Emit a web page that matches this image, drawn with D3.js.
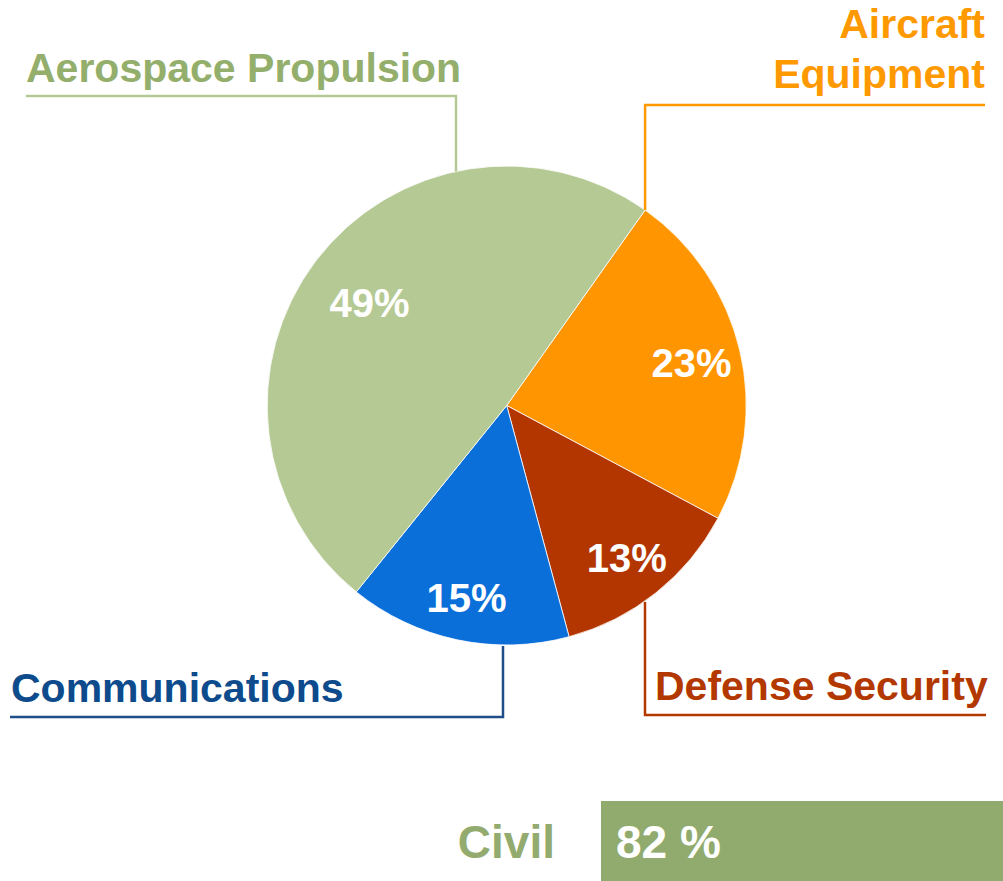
<!DOCTYPE html>
<html>
<head>
<meta charset="utf-8">
<script src="https://cdn.jsdelivr.net/npm/d3@7"></script>
<style>
  html, body { margin: 0; padding: 0; background: #fff; }
  svg { display: block; }
  text { font-family: "Liberation Sans", Arial, sans-serif; font-weight: bold; }
</style>
</head>
<body>
<svg id="chart" width="1003" height="881"></svg>
<script>
// Segment shares (percent), in clockwise order starting at the upper-right edge
const segments = ["Aircraft Equipment", "Defense Security", "Communications", "Aerospace Propulsion"];
const shares = [23, 13, 15, 49];
const shareLabels = ["23%", "13%", "15%", "49%"];

// Civil vs. total
const civilLabel = "Civil";
const civilShare = 82;

// Styling
const sliceColors = ["#FF9500", "#B33600", "#0B6FD9", "#B5C994"];
const textColors  = ["#FF9900", "#B33800", "#0D4B8C", "#94AE6C"];
const lineColors  = ["#FF9900", "#B33800", "#1F4E89", "#B5C994"];

const svg = d3.select("#chart");
const cx = 506.7, cy = 405.5, R = 239.5;
const startDeg = 35.3;

const pie = d3.pie().sort(null).value(d => d)
  .startAngle(startDeg * Math.PI / 180)
  .endAngle((startDeg + 360) * Math.PI / 180);
const arcs = pie(shares);
const arc = d3.arc().innerRadius(0).outerRadius(R);

const g = svg.append("g").attr("transform", `translate(${cx},${cy})`);
g.selectAll("path.slice").data(arcs).join("path")
  .attr("class", "slice")
  .attr("d", arc)
  .attr("fill", (d, i) => sliceColors[i])
  .attr("stroke", "#ffffff")
  .attr("stroke-width", 0.8);

// Percentage labels inside the slices
const labelRadius = [190, 193, 195, 172];
g.selectAll("text.pct").data(arcs).join("text")
  .attr("class", "pct")
  .attr("transform", (d, i) => {
    const c = d3.arc().innerRadius(labelRadius[i]).outerRadius(labelRadius[i]).centroid(d);
    return `translate(${c[0]},${c[1]})`;
  })
  .attr("text-anchor", "middle")
  .attr("dy", "0.38em")
  .attr("font-size", 40)
  .attr("fill", "#ffffff")
  .text((d, i) => shareLabels[i]);

// Point on the rim for a given angle (radians, clockwise from 12 o'clock)
const rim = a => [cx + R * Math.sin(a), cy - R * Math.cos(a)];
// y on the upper rim for a given x
const rimTopY = x => cy - Math.sqrt(R * R - (x - cx) * (x - cx));

// Leader lines
const aircraftStart = rim(arcs[0].startAngle);
const leaders = [
  `M985,105 H${aircraftStart[0]} V${aircraftStart[1]}`,
  `M645,602 V715 H986`,
  `M10,717 H503 V646`,
  `M26,96 H456 V${rimTopY(456)}`
];
svg.selectAll("path.leader").data(leaders).join("path")
  .attr("class", "leader")
  .attr("d", d => d)
  .attr("fill", "none")
  .attr("stroke", (d, i) => lineColors[i])
  .attr("stroke-width", 2.5);

// Segment names
const nameLayout = [
  { lines: ["Aircraft", "Equipment"], x: 985, y: 38, anchor: "end" },
  { lines: ["Defense Security"], x: 655, y: 700, anchor: "start" },
  { lines: ["Communications"], x: 11, y: 702, anchor: "start" },
  { lines: ["Aerospace Propulsion"], x: 26, y: 82, anchor: "start" }
];
nameLayout.forEach((L, i) => {
  const t = svg.append("text")
    .attr("x", L.x).attr("y", L.y)
    .attr("text-anchor", L.anchor)
    .attr("font-size", 41)
    .attr("fill", textColors[i]);
  L.lines.forEach((s, j) => {
    t.append("tspan").attr("x", L.x).attr("dy", j === 0 ? 0 : 49.5).text(s);
  });
});

// Civil share bar
const xBar = d3.scaleLinear().domain([0, civilShare]).range([601, 1003]);
svg.append("rect")
  .attr("x", xBar(0)).attr("y", 801)
  .attr("width", xBar(civilShare) - xBar(0)).attr("height", 80)
  .attr("fill", "#91AB6E");
svg.append("text")
  .attr("x", 616).attr("y", 858)
  .attr("font-size", 46).attr("fill", "#ffffff")
  .text(`${civilShare} %`);
svg.append("text")
  .attr("x", 555).attr("y", 858)
  .attr("text-anchor", "end")
  .attr("font-size", 46).attr("fill", "#93AB6E")
  .text(civilLabel);
</script>
</body>
</html>
